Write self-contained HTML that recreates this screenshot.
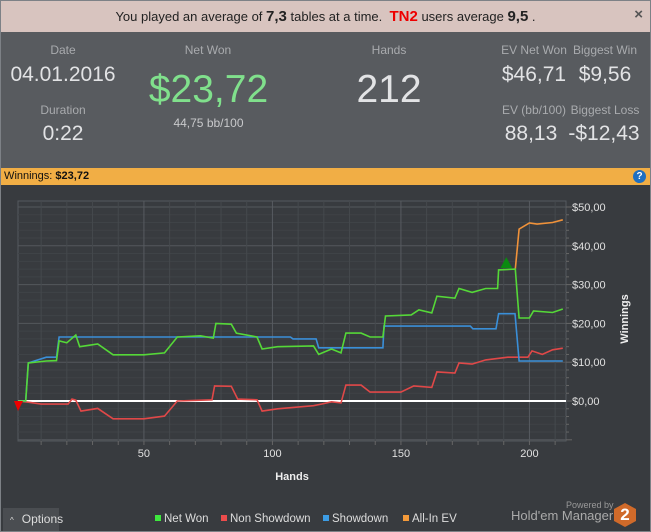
<!DOCTYPE html>
<html><head><meta charset="utf-8"><style>
body{margin:0;width:651px;height:532px;overflow:hidden;background:#383b3f;font-family:"Liberation Sans",sans-serif;}
#wrap{position:relative;width:649px;height:530px;border:1px solid #7d8186;background:#383b3f;}
.banner{position:absolute;left:0;top:0;width:649px;height:31px;background:#d8c4bf;font-size:13px;color:#222;text-align:center;line-height:31px;}
.stats{position:absolute;left:0;top:31px;width:649px;height:136px;background:#585b5f;color:#dde;}
.lbl{position:absolute;font-size:12px;color:#a9abae;text-align:center;white-space:nowrap;}
.val{position:absolute;color:#e2e3e5;text-align:center;white-space:nowrap;}
.obar{position:absolute;left:0;top:167px;width:649px;height:17px;background:#f1ae45;font-size:11px;line-height:17px;color:#111;}
</style></head><body>
<div id="wrap">
<div class="banner">You played an average of <b style="font-size:15px">7,3</b> tables at a time. &nbsp;<b style="color:#e00;font-size:15px">TN2</b> users average <b style="font-size:15px">9,5</b> .
<span style="position:absolute;right:7px;top:-2px;font-size:15px;color:#555;font-weight:bold">×</span></div>
<div class="stats">
<div class="lbl" style="left:22px;top:11px;width:80px">Date</div>
<div class="val" style="left:2px;top:31px;width:120px;font-size:21px">04.01.2016</div>
<div class="lbl" style="left:22px;top:71px;width:80px">Duration</div>
<div class="val" style="left:22px;top:90px;width:80px;font-size:21px">0:22</div>
<div class="lbl" style="left:167px;top:11px;width:80px">Net Won</div>
<div class="val" style="left:130px;top:36px;width:155px;font-size:39px;color:#80e08c">$23,72</div>
<div class="lbl" style="left:150px;top:84px;width:115px;color:#c8c9cb">44,75 bb/100</div>
<div class="lbl" style="left:348px;top:11px;width:80px">Hands</div>
<div class="val" style="left:338px;top:36px;width:100px;font-size:39px">212</div>
<div class="lbl" style="left:495px;top:11px;width:76px">EV Net Won</div>
<div class="val" style="left:495px;top:31px;width:76px;font-size:21px">$46,71</div>
<div class="lbl" style="left:566px;top:11px;width:76px">Biggest Win</div>
<div class="val" style="left:566px;top:31px;width:76px;font-size:21px">$9,56</div>
<div class="lbl" style="left:495px;top:71px;width:76px">EV (bb/100)</div>
<div class="val" style="left:495px;top:90px;width:70px;font-size:21px">88,13</div>
<div class="lbl" style="left:566px;top:71px;width:76px">Biggest Loss</div>
<div class="val" style="left:563px;top:90px;width:80px;font-size:21px">-$12,43</div>
</div>
<div class="obar">&nbsp;Winnings: <b>$23,72</b>
<span style="position:absolute;right:4px;top:2px;width:13px;height:13px;border-radius:50%;background:#1f6fc0;color:#fff;font-size:10px;line-height:13px;text-align:center;font-weight:bold">?</span></div>
<svg id="chart" width="649" height="346" style="position:absolute;left:0;top:184px"></svg>
<div style="position:absolute;left:2px;top:507px;width:56px;height:23px;background:#4a4d51;color:#ddd;font-size:12px;line-height:23px"><span style="font-size:8px;margin:0 8px 0 7px">^</span>Options</div>
<div style="position:absolute;left:565px;top:499px;font-size:9px;color:#999">Powered by</div>
<div style="position:absolute;left:510px;top:507px;font-size:13px;color:#aaa">Hold'em Manager</div>
<div style="position:absolute;left:613px;top:502px;width:22px;height:24px;background:#d06a2a;clip-path:polygon(50% 0,100% 25%,100% 75%,50% 100%,0 75%,0 25%);color:#fff;font-weight:bold;font-size:17px;text-align:center;line-height:24px">2</div>
</div>
<script>
const hands = {
 net:[1,4,5,12,16,17,20,23.5,25,32,38,50,58,63,72,77,78,84,86,94,96,102,116,118,123,126.7,128.6,134.5,138,143,144,154,157,162,164,171,172.6,177.7,183,187.6,188,194.5,196,200,201.6,209,213],
 sd:[1,4,5,12,16,17,107,108,117,118,143,143.4,177,178,187,188,194.4,196,213],
 ns:[1,5,10,20.5,22,23.5,25.5,32,38,50,58,63,76.5,77.5,84,86.5,94,96,102,116,119,123,126.7,128.6,134.5,138,150,155,162,164,171,172.6,177.7,183,191.6,199.4,201,205,209,213],
 ev:[194.5,196,200,203,209,213]
};
const netWon=[0,0,9.8,10.3,10.4,15.5,15,17,14,14.7,11.9,11.9,12.4,16.5,16.8,16.2,20,19.8,17.5,16.5,13.4,14,14.2,12,13.4,12.4,17.5,17.5,16.5,16.5,21.9,22.2,23.5,22.7,27,26.5,29,28,29,29,33.8,34,21.4,21.4,23.2,22.8,23.7];
const showdown=[0,0,9.8,11.3,11.3,16.5,16.5,16,16,13.7,13.7,19.3,19.3,18.6,18.6,22.5,22.5,10.3,10.3];
const nonShowdown=[0,-0.3,-0.8,-0.8,0.5,0.2,-2.6,-1.9,-4.6,-4.6,-3.9,0,0.3,3.9,3.8,0.5,0.3,-2.6,-2,-1.2,-0.8,-0.2,-0.5,4.1,4.1,2.3,2.3,3.9,3.5,7.5,7.2,9.8,9.5,10.6,11.3,11.3,12.9,12,13.2,13.6];
const allInEv=[34,44.3,45.9,45.6,46,46.7];
const yTicks=[0,10,20,30,40,50];
const yTickLabels=["$0,00","$10,00","$20,00","$30,00","$40,00","$50,00"];
const xTicks=[50,100,150,200];
const oy=184;
const X=h=>17+(h-1)*2.57;
const Y=v=>400-oy-v*3.88;
const svg=document.getElementById('chart');
const NS='http://www.w3.org/2000/svg';
function mk(t,a){const e=document.createElementNS(NS,t);for(const k in a)e.setAttribute(k,a[k]);svg.appendChild(e);return e;}
const L=17,R=565,T=200-oy,B=440-oy;
mk('rect',{x:L,y:T,width:R-L,height:B-T,fill:'#383b3f',stroke:'#555a5f'});
for(let v=-10;v<=50;v+=2){const y=Y(v);if(y<T||y>B)continue;const l=mk('line',{x1:L,x2:R,y1:y,y2:y,stroke:v%10===0?'#54585d':'#3f4347','stroke-width':1});mk('line',{x1:R,x2:R+(v%10===0?6:3),y1:y,y2:y,stroke:'#666'});}
for(let h=10;h<=210;h+=10){const x=X(h);const l=mk('line',{x1:x,x2:x,y1:T,y2:B,stroke:h%50===0?'#575b60':'#45494d'});mk('line',{x1:x,x2:x,y1:B,y2:B+4,stroke:'#666'});}
yTicks.forEach((v,i)=>{const t=mk('text',{x:R+6,y:Y(v)+4,fill:'#e0e0e0','font-size':11,'font-family':'Liberation Sans'});t.textContent=yTickLabels[i];});
xTicks.forEach(h=>{const t=mk('text',{x:X(h),y:452-oy+4,fill:'#e0e0e0','font-size':11,'text-anchor':'middle','font-family':'Liberation Sans'});t.textContent=h;});
let t=mk('text',{x:291,y:479-oy,fill:'#eee','font-size':11,'font-weight':'bold','text-anchor':'middle','font-family':'Liberation Sans'});t.textContent='Hands';

t=mk('text',{x:0,y:0,fill:'#eee','font-size':11,'font-weight':'bold','text-anchor':'middle','font-family':'Liberation Sans',transform:`translate(627,${318-oy}) rotate(-90)`});t.textContent='Winnings';

function line(hs,vs,color,name){const d=hs.map((h,i)=>(i?'L':'M')+X(h).toFixed(1)+','+Y(vs[i]).toFixed(1)).join('');const p=mk('path',{d:d,fill:'none',stroke:color,'stroke-width':1.6});}
const z=mk('line',{x1:L,x2:R,y1:Y(0),y2:Y(0),stroke:'#fff','stroke-width':2});
line(hands.ns,nonShowdown,'#e04848','non-showdown-line');
line(hands.sd,showdown,'#3a8fd8','showdown-line');
line(hands.ev,allInEv,'#f0923a','all-in-ev-line');
line(hands.net,netWon,'#55d838','net-won-line');
let m=mk('path',{d:`M${X(1)-4},${Y(0)}L${X(1)+5},${Y(0)}L${X(1)},${Y(0)+10}Z`,fill:'#e00'});
m=mk('path',{d:`M${X(191)-6},${Y(34)-1}L${X(191)+6},${Y(34)-1}L${X(191)},${Y(34)-12}Z`,fill:'#0a8a10'});
const leg=[['Net Won','#3ee83e',152],['Non Showdown','#ec4c4c',218],['Showdown','#3c9ce4',320],['All-In EV','#f49a3a',400]];
leg.forEach(l=>{const g=mk('rect',{x:l[2]+2,y:517-oy-3,width:6,height:6,fill:l[1]});const tx=mk('text',{x:l[2]+11,y:517-oy+4,fill:'#ddd','font-size':11.5,'font-family':'Liberation Sans'});tx.textContent=l[0];});
</script>
</body></html>
